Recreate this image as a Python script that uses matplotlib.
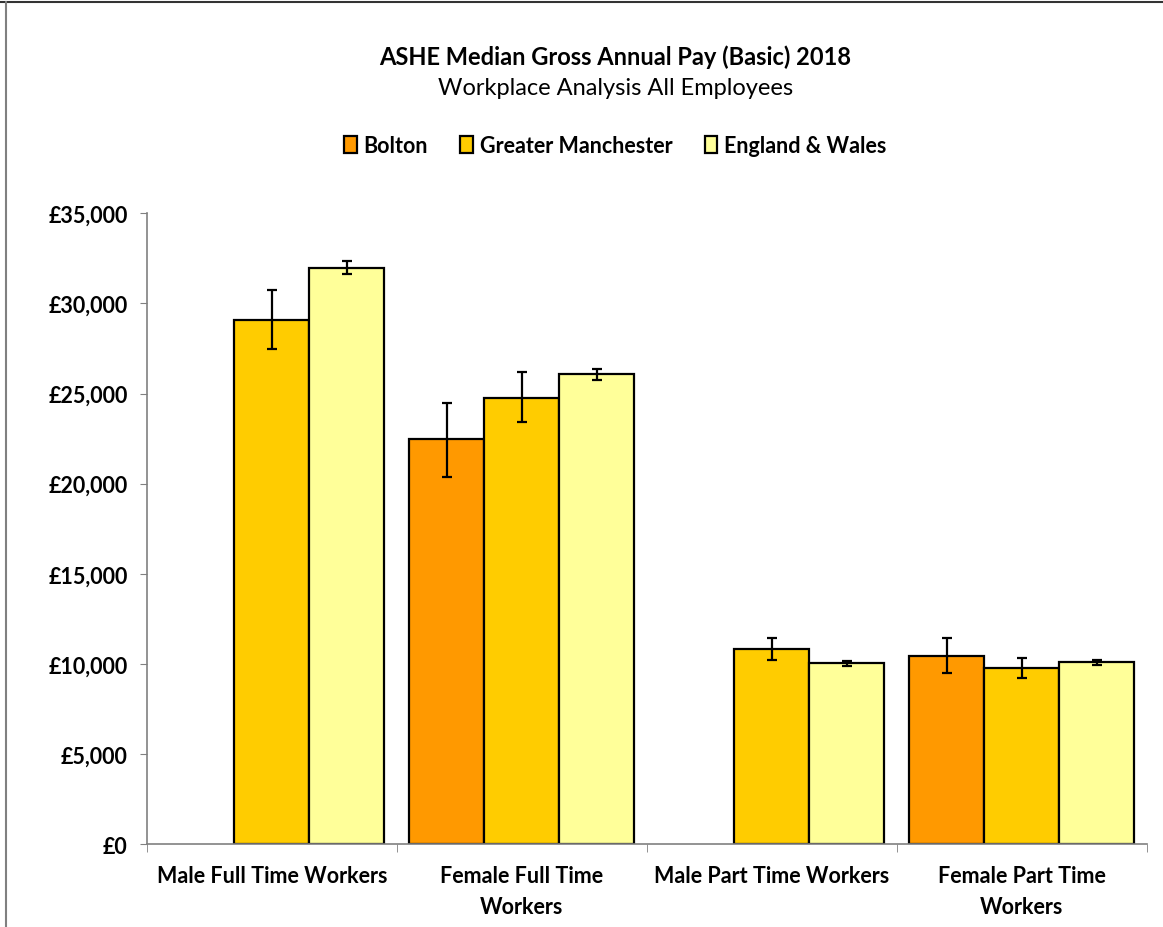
import matplotlib.pyplot as plt
import matplotlib.ticker as mticker
from matplotlib.lines import Line2D
import numpy as np

plt.rcParams['font.family'] = ['Lato', 'DejaVu Sans']

categories = ["Male Full Time Workers", "Female Full Time\nWorkers",
              "Male Part Time Workers", "Female Part Time\nWorkers"]
areas = ["Bolton", "Greater Manchester", "England & Wales"]
colors = ["#FF9900", "#FFCC00", "#FFFF99"]

# median pay, NaN where Bolton figure suppressed
bolton = [np.nan, 22460, np.nan, 10440]
greater_manchester = [29080, 24780, 10820, 9750]
england_wales = [31990, 26070, 10020, 10080]

# confidence interval bounds
bolton_low = [np.nan, 20390, np.nan, 9500]
bolton_high = [np.nan, 24500, np.nan, 11430]
gm_low = [27460, 23400, 10200, 9190]
gm_high = [30730, 26180, 11430, 10300]
ew_low = [31630, 25750, 9890, 9950]
ew_high = [32340, 26350, 10150, 10190]

series = [
    (bolton, bolton_low, bolton_high),
    (greater_manchester, gm_low, gm_high),
    (england_wales, ew_low, ew_high),
]

fig = plt.figure(figsize=(11.63, 9.28), dpi=100)
ax = fig.add_axes([0.1264, 0.0894, 0.8596, 0.6796])

x = np.arange(len(categories))
width = 0.3
for i, (vals, lo, hi) in enumerate(series):
    vals = np.array(vals, dtype=float)
    err = np.array([vals - np.array(lo, dtype=float),
                    np.array(hi, dtype=float) - vals])
    ax.bar(x + (i - 1) * width, vals, width, color=colors[i],
           edgecolor="black", linewidth=1.6, label=areas[i], zorder=2)
    ax.errorbar(x + (i - 1) * width, vals, yerr=err, fmt="none",
                ecolor="black", elinewidth=1.6, capsize=3.3,
                capthick=1.6, zorder=3)

ax.set_xlim(-0.5, len(categories) - 0.5)
ax.set_ylim(0, 35000)
ax.yaxis.set_major_locator(mticker.MultipleLocator(5000))
ax.yaxis.set_major_formatter(mticker.FuncFormatter(lambda v, p: f"£{v:,.0f}"))

ax.set_xticks(x)
ax.set_xticklabels(categories, fontweight="bold", fontsize=15.5, linespacing=1.6)
ax.set_xticks(np.arange(len(categories) + 1) - 0.5, minor=True)
ax.tick_params(axis="x", which="major", length=0, pad=15)
ax.tick_params(axis="x", which="minor", length=6, color="#808080")
ax.tick_params(axis="y", length=5, color="#808080", labelsize=15.5, pad=9)
for lab in ax.get_yticklabels():
    lab.set_fontweight("bold")

for s in ["top", "right"]:
    ax.spines[s].set_visible(False)
for s in ["left", "bottom"]:
    ax.spines[s].set_color("#808080")
    ax.spines[s].set_linewidth(1.2)

fig.text(0.529, 0.938, "ASHE Median Gross Annual Pay (Basic) 2018",
         ha="center", va="center", fontsize=17, fontweight="bold")
fig.text(0.529, 0.905, "Workplace Analysis All Employees",
         ha="center", va="center", fontsize=17)

fig.legend(loc="center", bbox_to_anchor=(0.529, 0.842), ncol=3, frameon=False,
           prop={"weight": "bold", "size": 15.5}, handlelength=0.6,
           handleheight=0.8, handletextpad=0.3, columnspacing=1.5)

# outer chart border (top and left visible in the original)
fig.add_artist(Line2D([0, 1], [0.9965, 0.9965], transform=fig.transFigure,
                      color="#333333", linewidth=1.5))
fig.add_artist(Line2D([0.005, 0.005], [0, 0.9965], transform=fig.transFigure,
                      color="#808080", linewidth=1.5))

fig.savefig("out.png", dpi=100)
